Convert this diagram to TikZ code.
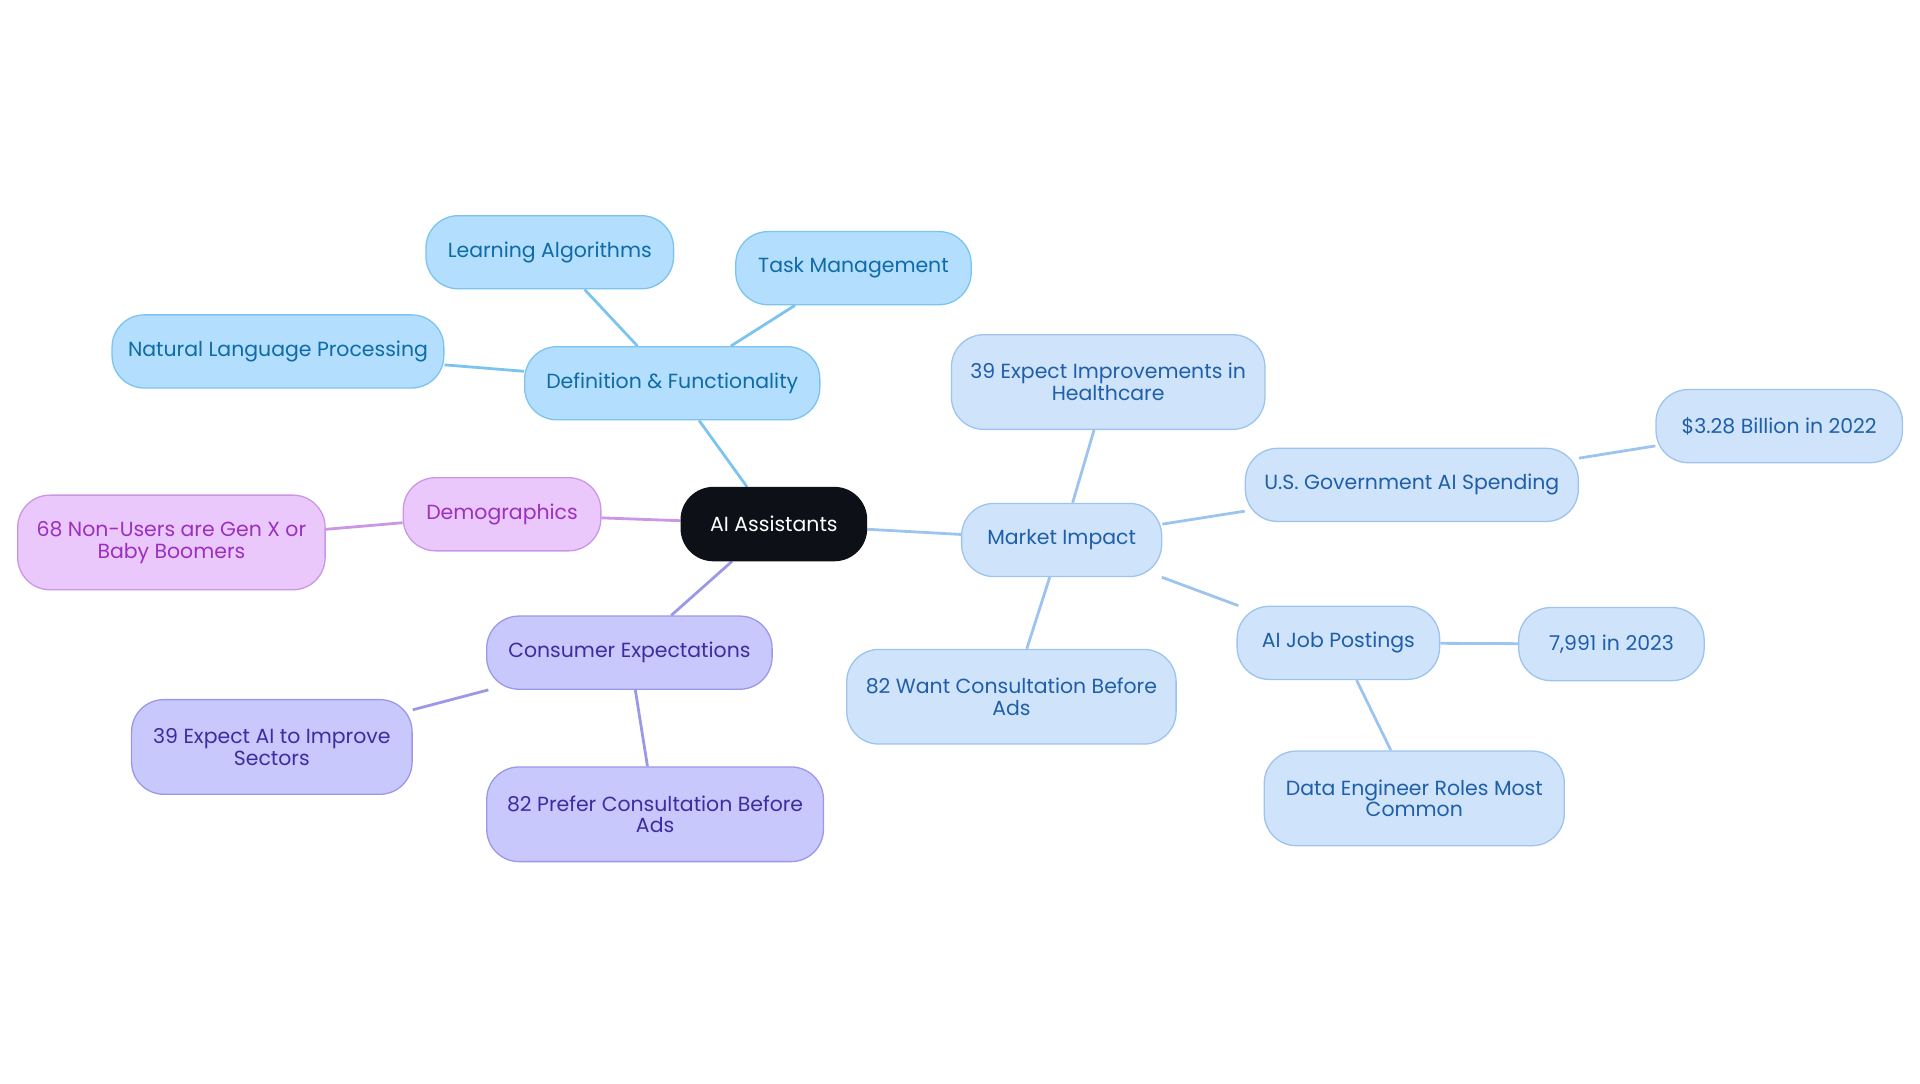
\documentclass[tikz,border=0pt]{standalone}
\usepackage{fontspec}
\setmainfont{Poppins}
\usetikzlibrary{positioning,backgrounds}
\definecolor{rootfill}{HTML}{0D1117}
\definecolor{defill}{HTML}{B3DEFD}
\definecolor{dedraw}{HTML}{7CC4F0}
\definecolor{detext}{HTML}{0E6BA8}
\definecolor{mkfill}{HTML}{CFE3FB}
\definecolor{mkdraw}{HTML}{9CC4EE}
\definecolor{mktext}{HTML}{1F5FAA}
\definecolor{cofill}{HTML}{C8C8FC}
\definecolor{codraw}{HTML}{9B98E8}
\definecolor{cotext}{HTML}{3C2DA0}
\definecolor{dmfill}{HTML}{EBC8FB}
\definecolor{dmdraw}{HTML}{CC96E6}
\definecolor{dmtext}{HTML}{9B30C0}
\tikzset{
  box/.style={rounded corners=15pt, minimum height=34pt, font=\fontsize{9.5}{10}\selectfont, align=center, inner sep=2pt, line width=0.6pt},
  defbox/.style={box, fill=defill, draw=dedraw, text=detext},
  mktbox/.style={box, fill=mkfill, draw=mkdraw, text=mktext},
  conbox/.style={box, fill=cofill, draw=codraw, text=cotext},
  dembox/.style={box, fill=dmfill, draw=dmdraw, text=dmtext},
  tall/.style={minimum height=44pt},
  link/.style={line width=1.3pt}
}
\begin{document}
\begin{tikzpicture}[x=0.02cm, y=-0.02cm]
\useasboundingbox (0,0) rectangle (1568,885);

% Root
\node[box, fill=rootfill, draw=rootfill, text=white, minimum width=152*0.567pt] (root) at (632,428) {AI Assistants};

% Definition branch
\node[defbox, minimum width=242*0.567pt] (def) at (549,313) {Definition \& Functionality};
\node[defbox, minimum width=203*0.567pt] (learn) at (449,206) {Learning Algorithms};
\node[defbox, minimum width=193*0.567pt] (task) at (697,219) {Task Management};
\node[defbox, minimum width=272*0.567pt] (nlp) at (227,287) {Natural Language Processing};

% Demographics branch
\node[dembox, minimum width=162*0.567pt] (dem) at (410,420) {Demographics};
\node[dembox, tall, minimum width=252*0.567pt] (genx) at (140,443) {68 Non-Users are Gen X or\\Baby Boomers};

% Consumer branch
\node[conbox, minimum width=234*0.567pt] (con) at (514,533) {Consumer Expectations};
\node[conbox, tall, minimum width=230*0.567pt] (sect) at (222,610) {39 Expect AI to Improve\\Sectors};
\node[conbox, tall, minimum width=276*0.567pt] (pref) at (535,665) {82 Prefer Consultation Before\\Ads};

% Market branch
\node[mktbox, minimum width=164*0.567pt] (mkt) at (867,441) {Market Impact};
\node[mktbox, tall, minimum width=257*0.567pt] (health) at (905,312) {39 Expect Improvements in\\Healthcare};
\node[mktbox, minimum width=273*0.567pt] (gov) at (1153,396) {U.S. Government AI Spending};
\node[mktbox, minimum width=202*0.567pt] (bill) at (1453,348) {\$3.28 Billion in 2022};
\node[mktbox, minimum width=166*0.567pt] (jobs) at (1093,525) {AI Job Postings};
\node[mktbox, minimum width=152*0.567pt] (num) at (1316,526) {7,991 in 2023};
\node[mktbox, tall, minimum width=246*0.567pt] (eng) at (1155,652) {Data Engineer Roles Most\\Common};
\node[mktbox, tall, minimum width=270*0.567pt] (want) at (826,569) {82 Want Consultation Before\\Ads};

% Links
\begin{scope}[on background layer]
\draw[link, dedraw] (root) -- (def);
\draw[link, dedraw] (def) -- (learn);
\draw[link, dedraw] (def) -- (task);
\draw[link, dedraw] (def) -- (nlp);
\draw[link, dmdraw] (root) -- (dem);
\draw[link, dmdraw] (dem) -- (genx);
\draw[link, codraw] (root) -- (con);
\draw[link, codraw] (con) -- (sect);
\draw[link, codraw] (con) -- (pref);
\draw[link, mkdraw] (root) -- (mkt);
\draw[link, mkdraw] (mkt) -- (health);
\draw[link, mkdraw] (mkt) -- (gov);
\draw[link, mkdraw] (gov) -- (bill);
\draw[link, mkdraw] (mkt) -- (jobs);
\draw[link, mkdraw] (jobs) -- (num);
\draw[link, mkdraw] (jobs) -- (eng);
\draw[link, mkdraw] (mkt) -- (want);
\end{scope}
\end{tikzpicture}
\end{document}
